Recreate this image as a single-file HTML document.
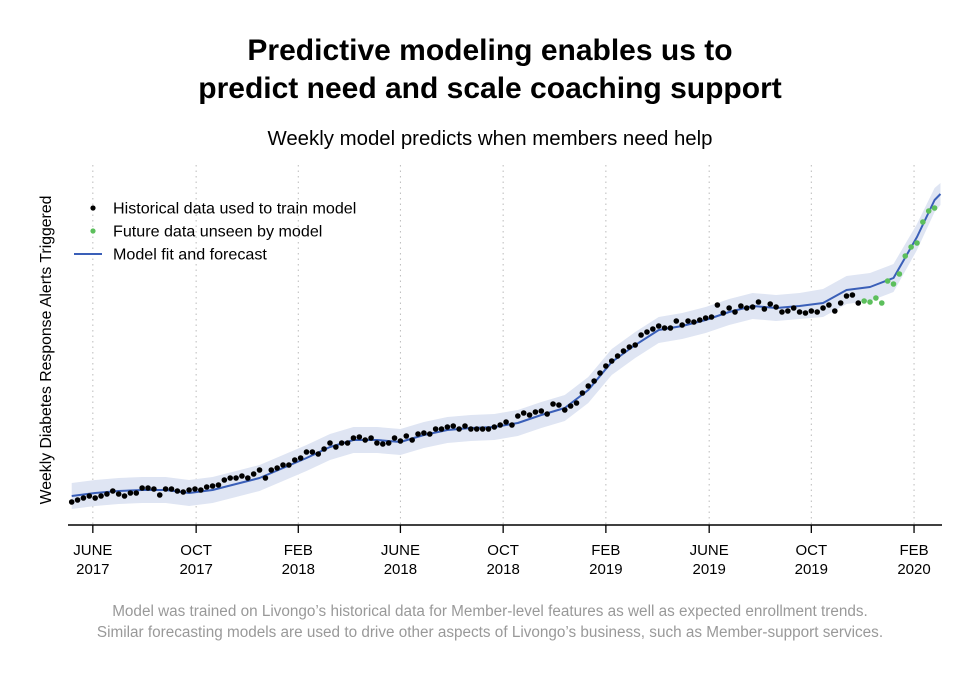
<!DOCTYPE html>
<html><head><meta charset="utf-8"><style>
body{margin:0;background:#fff;font-family:"Liberation Sans",sans-serif;}
#wrap{position:relative;width:980px;height:676px;overflow:hidden;}
</style></head><body>
<div id="wrap">
<svg id="chart" width="980" height="676" viewBox="0 0 980 676">
<text x="490" y="60" text-anchor="middle" font-size="30" font-weight="bold" fill="#000">Predictive modeling enables us to</text>
<text x="490" y="98" text-anchor="middle" font-size="30" font-weight="bold" fill="#000">predict need and scale coaching support</text>
<text x="490" y="145" text-anchor="middle" font-size="20.4" fill="#000">Weekly model predicts when members need help</text>
<text transform="translate(51,350) rotate(-90)" text-anchor="middle" font-size="15.8" fill="#000">Weekly Diabetes Response Alerts Triggered</text>
<g id="grid"></g>
<g id="band"></g>
<g id="fitg"></g>
<g id="pts"></g>
<g id="axis"></g>
<g>
<circle cx="93" cy="208" r="2.6" fill="#000"/>
<text x="113" y="213.5" font-size="16.1" fill="#000">Historical data used to train model</text>
<circle cx="93" cy="231" r="2.6" fill="#5cbf5c"/>
<text x="113" y="236.5" font-size="16.1" fill="#000">Future data unseen by model</text>
<line x1="74" y1="254" x2="102" y2="254" stroke="#3a5fb8" stroke-width="2"/>
<text x="113" y="259.5" font-size="16.1" fill="#000">Model fit and forecast</text>
</g>
<text x="490" y="616" text-anchor="middle" font-size="15.3" fill="#999">Model was trained on Livongo’s historical data for Member-level features as well as expected enrollment trends.</text>
<text x="490" y="637" text-anchor="middle" font-size="15.3" fill="#999">Similar forecasting models are used to drive other aspects of Livongo’s business, such as Member-support services.</text>
</svg>
</div>
<script>
const historical = [36,40,44,48,44,48,52,58,52,48,54,54,64,64,62,50,62,62,58,56,60,62,60,66,68,70,80,84,84,88,84,92,100,84,100,104,110,110,120,124,136,136,132,142,154,146,154,154,164,166,
160,164,154,152,154,164,158,168,160,172,174,172,182,182,186,188,182,188,182,182,182,182,186,190,196,190,208,214,210,216,218,212,232,230,220,228,234,254,268,278,294,308,318,328,338,346,350,
370,376,382,388,384,384,398,390,398,396,400,404,406,430,414,424,416,428,424,426,436,422,432,426,416,418,424,416,414,418,416,424,430,418,434,448,450,434];
const future = [438,436,444,434,478,472,492,528,546,554,596,618,624];
const fitWeeks = [0,4,8,12,16,20,24,28,32,36,40,44,48,52,56,60,64,68,72,76,80,84,88,92,96,100,104,108,112,116,120,124,128,132,136,140,144,147,148];
const fitValues = [48,54,58,60,60,54,60,72,84,104,124,146,160,160,156,170,180,184,186,194,210,224,260,316,350,380,388,400,416,428,424,428,434,460,466,484,566,640,652];
const bandHalf = [26,26,26,26,26,26,26,26,26,26,26,26,26,26,26,26,26,26,26,26,26,26,26,26,26,26,26,26,26,26,26,26,28,28,28,28,26,24,22];
const tickWeeks = [3.6,21.2,38.6,56,73.5,91,108.6,126,143.5];
const tickMonths = ["JUNE","OCT","FEB","JUNE","OCT","FEB","JUNE","OCT","FEB"];
const tickYears = ["2017","2017","2018","2018","2018","2019","2019","2019","2020"];

const NS="http://www.w3.org/2000/svg";
function xS(w){return 71.7+5.87*w;}
function yS(v){return 520-v/2;}
function mk(tag,attrs,parent){const e=document.createElementNS(NS,tag);for(const k in attrs)e.setAttribute(k,attrs[k]);parent.appendChild(e);return e;}
const grid=document.getElementById('grid'),axis=document.getElementById('axis');
tickWeeks.forEach((w,i)=>{
  const x=xS(w);
  const g=mk('line',{x1:x,x2:x,y1:165,y2:524,stroke:'#bbb','stroke-width':1,'stroke-dasharray':'1.5,4'},grid);
  
  
  const t=mk('line',{x1:x,x2:x,y1:525,y2:533,stroke:'#000','stroke-width':1.3},axis);
  
  
  const l1=mk('text',{x:x,y:555,'text-anchor':'middle','font-size':15,fill:'#000'},axis);
  l1.textContent=tickMonths[i];
  
  
  const l2=mk('text',{x:x,y:574,'text-anchor':'middle','font-size':15,fill:'#000'},axis);
  l2.textContent=tickYears[i];
  
  
});
const ax=mk('line',{x1:68,x2:942,y1:525,y2:525,stroke:'#000','stroke-width':1.5},axis);


let up=fitWeeks.map((w,i)=>xS(w)+','+yS(fitValues[i]+bandHalf[i]));
let dn=fitWeeks.map((w,i)=>xS(w)+','+yS(fitValues[i]-bandHalf[i])).reverse();
const band=mk('polygon',{points:up.concat(dn).join(' '),fill:'#dfe5f3'},document.getElementById('band'));


const fit=mk('polyline',{points:fitWeeks.map((w,i)=>xS(w)+','+yS(fitValues[i])).join(' '),fill:'none',stroke:'#3a5fb8','stroke-width':2,'stroke-linejoin':'round'},document.getElementById('fitg'));


const pts=document.getElementById('pts');
historical.forEach((v,i)=>{
  const c=mk('circle',{cx:xS(i),cy:yS(v),r:2.8,fill:'#000'},pts);
  
  
});
future.forEach((v,i)=>{
  const c=mk('circle',{cx:xS(historical.length+i),cy:yS(v),r:2.8,fill:'#5cbf5c'},pts);
  
  
});
</script>
</body></html>
